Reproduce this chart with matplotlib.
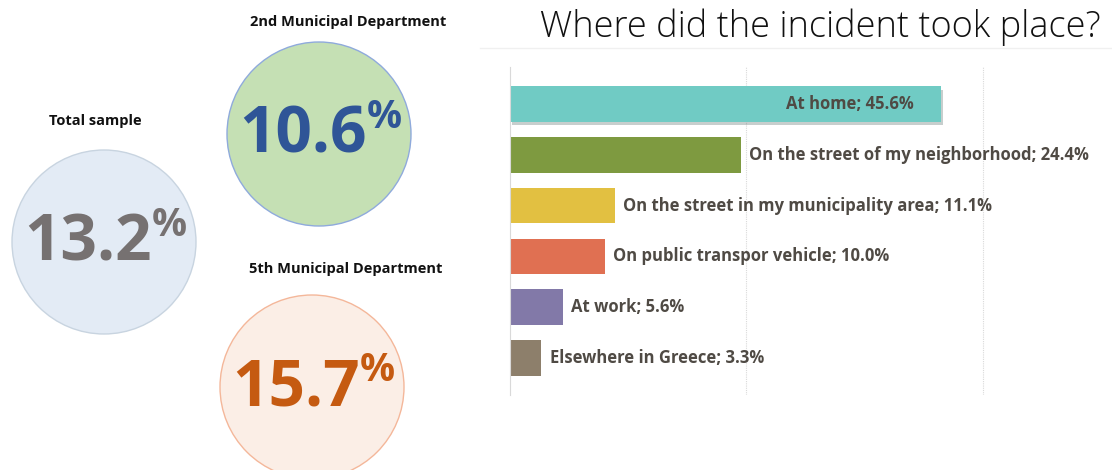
import matplotlib.pyplot as plt
from matplotlib.patches import Circle
import matplotlib.patheffects as pe

# data
places = ["At home", "On the street of my neighborhood", "On the street in my municipality area",
          "On public transpor vehicle", "At work", "Elsewhere in Greece"]
shares = [45.6, 24.4, 11.1, 10.0, 5.6, 3.3]
bar_colors = ["#70CBC4", "#7E9A40", "#E2C041", "#E07052", "#8279A8", "#8D7F6B"]

groups = ["Total sample", "2nd Municipal Department", "5th Municipal Department"]
group_rates = [13.2, 10.6, 15.7]

plt.rcParams['font.family'] = ['Open Sans', 'DejaVu Sans']

W, H = 1112, 470
fig = plt.figure(figsize=(W / 100, H / 100), dpi=100)

# overlay in pixel coordinates for the circles
ov = fig.add_axes([0, 0, 1, 1])
ov.set_xlim(0, W)
ov.set_ylim(H, 0)
ov.axis('off')

circ = [(104, 242), (319, 134), (312, 387)]
title_xy = [(95, 121), (348, 22), (346, 269)]
fills = ["#E3EBF5", "#C5E0B4", "#FBEEE6"]
edges = ["#C8D4E0", "#8FAADC", "#F4B79A"]
num_colors = ["#767171", "#2F5597", "#C55A11"]

for i in range(3):
    cx, cy = circ[i]
    ov.add_patch(Circle((cx, cy), 92, facecolor=fills[i], edgecolor=edges[i], lw=1))
    ov.text(title_xy[i][0], title_xy[i][1], groups[i], ha='center', va='center',
            fontsize=10.5, fontweight='bold', color='#111111')
    t = ov.text(cx - 16, cy + 2, f"{group_rates[i]:.1f}", ha='center', va='center',
                fontsize=46, fontweight='bold', color=num_colors[i])
    ov.annotate('%', xy=(1, 1), xycoords=t, xytext=(0, 4), textcoords='offset points',
                ha='left', va='top', fontsize=28, fontweight='bold', color=num_colors[i])

# separator line and title
ov.plot([480, W], [48, 48], color='#F0F0F0', lw=1)
fig.text(0.99, 1 - 37 / H, "Where did the incident took place?", ha='right', va='baseline',
         fontsize=26, fontweight='light', color='#111111')

# bar chart
ax = fig.add_axes([510 / W, 1 - 395 / H, 520 / W, 328 / H])
y = list(range(len(places)))
bars = ax.barh(y, shares, height=0.7, color=bar_colors, zorder=2)
bars[0].set_path_effects([pe.SimplePatchShadow(offset=(1.5, -2.5), alpha=0.25), pe.Normal()])
ax.set_xlim(0, 55)
ax.set_ylim(5.73, -0.73)
ax.set_xticks([25, 50])
ax.xaxis.grid(True, color='#D9D9D9', lw=0.8, ls=(0, (1, 1)))
ax.tick_params(left=False, bottom=False, labelleft=False, labelbottom=False)
for s in ['top', 'right', 'bottom']:
    ax.spines[s].set_visible(False)
ax.spines['left'].set_color('#D9D9D9')

for i, (p, v) in enumerate(zip(places, shares)):
    lab = f"{p}; {v:.1f}%"
    if i == 0:
        ax.annotate(lab, (v, i), xytext=(-20, 0), textcoords='offset points',
                    ha='right', va='center', fontsize=12, fontweight='bold', color='#4F4A44')
    else:
        ax.annotate(lab, (v, i), xytext=(6, 0), textcoords='offset points',
                    ha='left', va='center', fontsize=12, fontweight='bold', color='#4F4A44')

fig.savefig('out.png', dpi=100)
